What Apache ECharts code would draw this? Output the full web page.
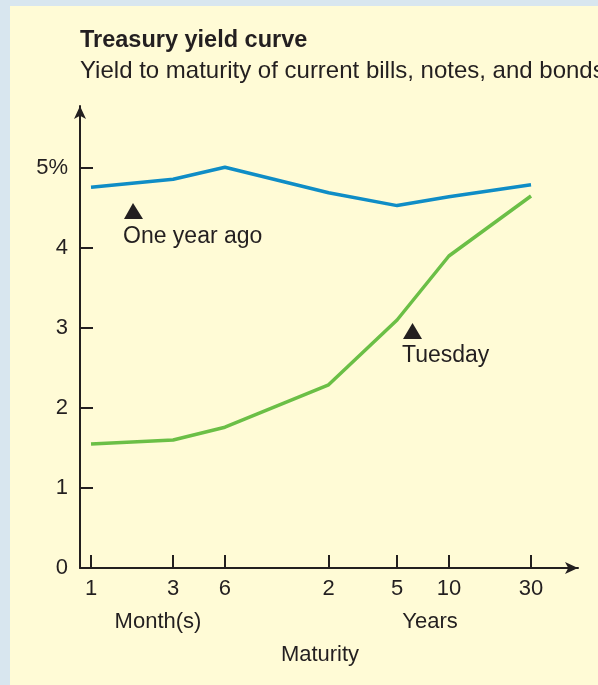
<!DOCTYPE html>
<html>
<head>
<meta charset="utf-8">
<style>
  html, body { margin: 0; padding: 0; background: #fffbd6; }
  #main { width: 598px; height: 685px; }
</style>
<script src="https://cdn.jsdelivr.net/npm/echarts@6/dist/echarts.min.js"></script>
</head>
<body>
<div id="main"></div>
<script>
// maturity in months (1m, 3m, 6m, 2y, 5y, 10y, 30y)
var maturities = [1, 3, 6, 24, 60, 120, 360];
var maturityLabels = ['1', '3', '6', '2', '5', '10', '30'];
var yearAgo = [4.76, 4.86, 5.01, 4.69, 4.53, 4.64, 4.79];
var tuesday = [1.55, 1.60, 1.76, 2.29, 3.10, 3.90, 4.65];
var yTicks = [0, 1, 2, 3, 4, 5];

var ink = '#231f20';
var font = '"Liberation Sans", Arial, Helvetica, sans-serif';

function pairs(vals) {
    return maturities.map(function (m, i) { return [m, vals[i]]; });
}

var myChart = echarts.init(document.getElementById('main'));

var option = {
    backgroundColor: '#fffbd6',
    animation: false,
    textStyle: { fontFamily: font, color: ink },
    grid: {
        left: 80, top: 106, right: 20, bottom: 117,
        containLabel: false,
        outerBoundsMode: 'none'
    },
    xAxis: {
        type: 'log',
        logBase: 10,
        min: 0.863,
        max: 675,
        axisLine: {
            lineStyle: { color: ink, width: 2 },
            symbol: ['none', 'arrow'],
            symbolSize: [9, 13]
        },
        axisTick: {
            inside: true, length: 13,
            lineStyle: { color: ink, width: 2 },
            customValues: maturities
        },
        axisLabel: {
            customValues: maturities,
            fontSize: 22, color: ink, margin: 10,
            formatter: function (v) {
                var best = 0;
                maturities.forEach(function (m, i) {
                    if (Math.abs(Math.log(m) - Math.log(v)) < Math.abs(Math.log(maturities[best]) - Math.log(v))) best = i;
                });
                return maturityLabels[best];
            }
        },
        splitLine: { show: false },
        minorTick: { show: false }
    },
    yAxis: {
        type: 'value',
        min: 0,
        max: 5.775,
        interval: 1,
        axisLine: {
            show: true,
            lineStyle: { color: ink, width: 2 },
            symbol: ['none', 'arrow'],
            symbolSize: [9, 13]
        },
        axisTick: {
            show: true, inside: true, length: 13,
            lineStyle: { color: ink, width: 2 },
            customValues: [1, 2, 3, 4, 5]
        },
        axisLabel: {
            customValues: yTicks,
            fontSize: 22, color: ink, margin: 12,
            formatter: function (v) { return v === 5 ? '5%' : String(v); }
        },
        splitLine: { show: false }
    },
    series: [
        {
            name: 'One year ago',
            type: 'line',
            data: pairs(yearAgo),
            showSymbol: false,
            lineStyle: { color: '#0f8dc6', width: 3.5 },
            itemStyle: { color: '#0f8dc6' }
        },
        {
            name: 'Tuesday',
            type: 'line',
            data: pairs(tuesday),
            showSymbol: false,
            lineStyle: { color: '#6bbf46', width: 3.5 },
            itemStyle: { color: '#6bbf46' }
        }
    ],
    graphic: [
        // light blue frame at top and left
        { type: 'rect', left: 0, top: 0, shape: { width: 598, height: 6 },
          style: { fill: '#d8e6ef' }, z: 10 },
        { type: 'rect', left: 0, top: 0, shape: { width: 10, height: 685 },
          style: { fill: '#d8e6ef' }, z: 10 },
        { type: 'text', x: 80, y: 41,
          style: { text: 'Treasury yield curve', fontSize: 23.5, fontWeight: 'bold',
                   fontFamily: font, fill: ink, textVerticalAlign: 'middle' } },
        { type: 'text', x: 80, y: 71,
          style: { text: 'Yield to maturity of current bills, notes, and bonds', fontSize: 24,
                   fontFamily: font, fill: ink, textVerticalAlign: 'middle' } },
        { type: 'polygon', shape: { points: [[133, 203], [124, 219], [143, 219]] },
          style: { fill: ink } },
        { type: 'text', x: 123, y: 237,
          style: { text: 'One year ago', fontSize: 23, fontFamily: font, fill: ink,
                   textVerticalAlign: 'middle' } },
        { type: 'polygon', shape: { points: [[412.5, 323], [403, 339], [422, 339]] },
          style: { fill: ink } },
        { type: 'text', x: 402, y: 356,
          style: { text: 'Tuesday', fontSize: 23, fontFamily: font, fill: ink,
                   textVerticalAlign: 'middle' } },
        { type: 'text', x: 158, y: 622,
          style: { text: 'Month(s)', fontSize: 22, fontFamily: font, fill: ink,
                   textAlign: 'center', textVerticalAlign: 'middle' } },
        { type: 'text', x: 430, y: 622,
          style: { text: 'Years', fontSize: 22, fontFamily: font, fill: ink,
                   textAlign: 'center', textVerticalAlign: 'middle' } },
        { type: 'text', x: 320, y: 655,
          style: { text: 'Maturity', fontSize: 22, fontFamily: font, fill: ink,
                   textAlign: 'center', textVerticalAlign: 'middle' } }
    ]
};

myChart.setOption(option);
</script>
</body>
</html>
